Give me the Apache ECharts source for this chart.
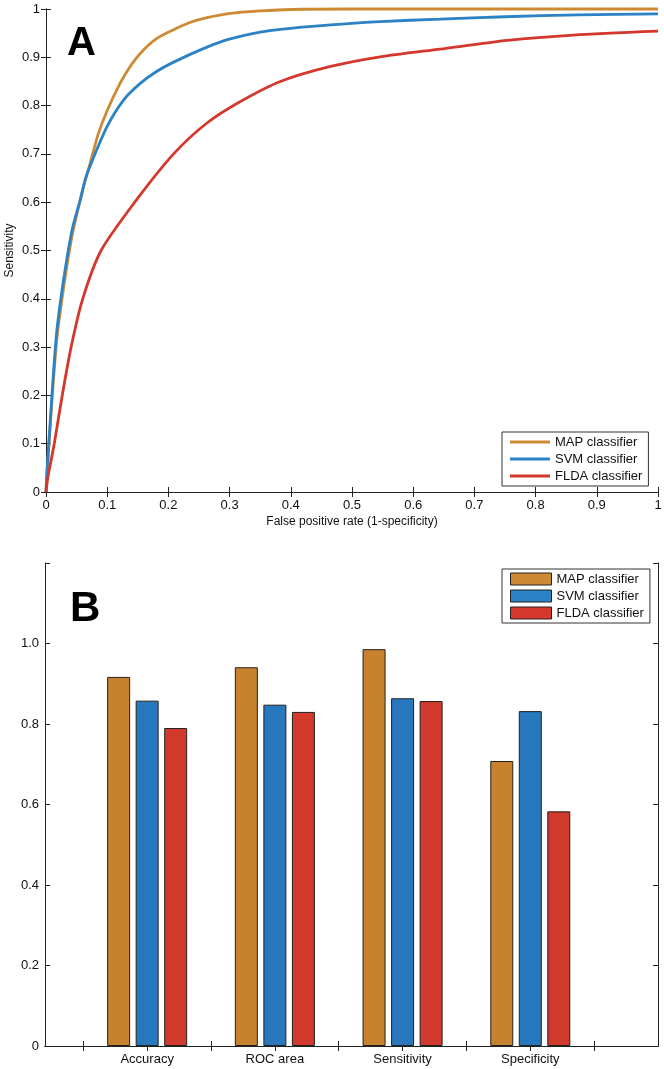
<!DOCTYPE html>
<html>
<head>
<meta charset="utf-8">
<script src="https://cdn.jsdelivr.net/npm/echarts@6/dist/echarts.min.js"></script>
<style>
html, body { margin: 0; padding: 0; background: #fff; }
#chart { width: 664px; height: 1069px; }
</style>
</head>
<body>
<div id="chart"></div>
<script>
// Panel A - ROC curves, points are [false positive rate, sensitivity]
var mapRoc = [[0, 0], [0.002, 0.04], [0.006, 0.12], [0.0115, 0.22], [0.018, 0.32], [0.029, 0.425],
  [0.0425, 0.53], [0.056, 0.605], [0.064, 0.645], [0.072, 0.68], [0.085, 0.74], [0.1, 0.79],
  [0.121, 0.846], [0.137, 0.88], [0.154, 0.908], [0.18, 0.938], [0.2085, 0.957], [0.235, 0.972],
  [0.263, 0.982], [0.301, 0.991], [0.35, 0.996], [0.4, 0.999], [0.5, 1.0], [0.7, 1.0], [1, 1.0]];
var svmRoc = [[0, 0], [0.0016, 0.046], [0.006, 0.128], [0.0114, 0.232], [0.0178, 0.335], [0.0288, 0.44],
  [0.0425, 0.542], [0.056, 0.605], [0.064, 0.646], [0.072, 0.675], [0.0995, 0.756], [0.127, 0.812],
  [0.154, 0.846], [0.18, 0.87], [0.2085, 0.89], [0.263, 0.921], [0.301, 0.938], [0.35, 0.952],
  [0.383, 0.958], [0.465, 0.967], [0.546, 0.974], [0.644, 0.979], [0.75, 0.984], [0.87, 0.988], [1, 0.99]];
var fldaRoc = [[0, 0], [0.003, 0.03], [0.0135, 0.1], [0.0265, 0.2], [0.041, 0.3], [0.06, 0.4],
  [0.09, 0.5], [0.145, 0.6], [0.2085, 0.7], [0.263, 0.764], [0.317, 0.808], [0.383, 0.85],
  [0.465, 0.881], [0.546, 0.901], [0.644, 0.917], [0.754, 0.935], [0.862, 0.946], [1, 0.954]];

// Panel B - performance measures
var measures = ['Accuracy', 'ROC area', 'Sensitivity', 'Specificity'];
var mapScores = [0.917, 0.941, 0.986, 0.708];
var svmScores = [0.858, 0.848, 0.864, 0.832];
var fldaScores = [0.790, 0.830, 0.857, 0.583];

var classifiers = ['MAP classifier', 'SVM classifier', 'FLDA classifier'];
var lineColors = ['#CD8A32', '#2B82C4', '#D4372C'];
var barColors = ['#C8812C', '#2778BD', '#D03A2D'];

var font = '"Liberation Sans", Arial, sans-serif';
var axisColor = '#222';

function frameAxis(extra) {
  var base = {
    axisLine: { show: true, lineStyle: { color: axisColor, width: 1 } },
    axisTick: { show: true, inside: true, length: 5, lineStyle: { color: axisColor } },
    axisLabel: { show: false },
    splitLine: { show: false }
  };
  return Object.assign(base, extra);
}

var labelStyle = { show: true, color: '#111', fontSize: 13, fontFamily: font };

function bars(scores) {
  return scores.map(function (v, i) { return [i + 1, v]; });
}

var chart = echarts.init(document.getElementById('chart'));
chart.setOption({
  animation: false,
  backgroundColor: '#fff',
  grid: [
    { left: 46, top: 9, width: 612, height: 483, outerBoundsMode: 'none', containLabel: false },
    { left: 45, top: 563, width: 613, height: 483, outerBoundsMode: 'none', containLabel: false }
  ],
  xAxis: [
    frameAxis({
      type: 'value', gridIndex: 0, position: 'bottom', min: 0, max: 1, interval: 0.1,
      axisLabel: Object.assign({ margin: 7 }, labelStyle),
      name: 'False positive rate (1-specificity)', nameLocation: 'middle', nameGap: 24,
      nameTextStyle: { color: '#111', fontSize: 12, fontFamily: font }
    }),
    frameAxis({ type: 'value', gridIndex: 0, position: 'top', min: 0, max: 1, interval: 0.1 }),
    frameAxis({
      type: 'value', gridIndex: 1, position: 'bottom', min: 0.2, max: 5,
      axisTick: { show: true, inside: true, length: 5, lineStyle: { color: axisColor },
        customValues: [0.5, 1, 1.5, 2, 2.5, 3, 3.5, 4, 4.5] },
      axisLabel: Object.assign({ margin: 7, customValues: [1, 2, 3, 4],
        formatter: function (v) { return measures[Math.round(v) - 1] || ''; } }, labelStyle)
    }),
    frameAxis({
      type: 'value', gridIndex: 1, position: 'top', min: 0.2, max: 5,
      axisTick: { show: true, inside: true, length: 5, lineStyle: { color: axisColor },
        customValues: [0.5, 1, 1.5, 2, 2.5, 3, 3.5, 4, 4.5] }
    })
  ],
  yAxis: [
    frameAxis({
      type: 'value', gridIndex: 0, position: 'left', min: 0, max: 1, interval: 0.1,
      axisLabel: Object.assign({ margin: 6 }, labelStyle),
      name: 'Sensitivity', nameLocation: 'middle', nameGap: 30, nameMoveOverlap: false,
      nameTextStyle: { color: '#111', fontSize: 12, fontFamily: font }
    }),
    frameAxis({ type: 'value', gridIndex: 0, position: 'right', min: 0, max: 1, interval: 0.1 }),
    frameAxis({
      type: 'value', gridIndex: 1, position: 'left', min: 0, max: 1.2, interval: 0.2,
      axisLabel: Object.assign({ margin: 6, formatter: function (v) {
        if (v === 0) return '0';
        if (v > 1.1) return '';
        return v.toFixed(1);
      } }, labelStyle)
    }),
    frameAxis({ type: 'value', gridIndex: 1, position: 'right', min: 0, max: 1.2, interval: 0.2 })
  ],
  legend: [
    {
      data: classifiers, orient: 'vertical', left: 502, top: 432,
      icon: 'rect', itemWidth: 40, itemHeight: 3, itemGap: 3,
      itemStyle: { borderWidth: 0 },
      padding: [3, 6, 3, 8], borderColor: '#333', borderWidth: 1, backgroundColor: '#fff',
      textStyle: { color: '#111', fontSize: 13, fontFamily: font, lineHeight: 14 }
    },
    {
      data: classifiers, orient: 'vertical', left: 502, top: 569,
      icon: 'rect', itemWidth: 41, itemHeight: 12, itemGap: 3,
      itemStyle: { borderColor: '#222', borderWidth: 1 },
      padding: [3, 6, 3, 8], borderColor: '#333', borderWidth: 1, backgroundColor: '#fff',
      textStyle: { color: '#111', fontSize: 13, fontFamily: font, lineHeight: 14 }
    }
  ],
  graphic: [
    { type: 'text', left: 67, top: 24, style: { text: 'A', font: 'bold 40px ' + font, fill: '#000' } },
    { type: 'text', left: 70, top: 588, style: { text: 'B', font: 'bold 42px ' + font, fill: '#000' } }
  ],
  series: [
    { name: classifiers[0], type: 'line', xAxisIndex: 0, yAxisIndex: 0, data: mapRoc },
    { name: classifiers[1], type: 'line', xAxisIndex: 0, yAxisIndex: 0, data: svmRoc },
    { name: classifiers[2], type: 'line', xAxisIndex: 0, yAxisIndex: 0, data: fldaRoc }
  ].map(function (s, i) {
    return Object.assign(s, {
      symbol: 'none', smooth: 0.25, clip: false,
      color: lineColors[i], lineStyle: { color: lineColors[i], width: 2.8 }
    });
  }).concat([mapScores, svmScores, fldaScores].map(function (scores, i) {
    return {
      name: classifiers[i], type: 'bar', xAxisIndex: 2, yAxisIndex: 2,
      data: bars(scores), barWidth: 23, barGap: '24%',
      itemStyle: { color: barColors[i], borderColor: '#222', borderWidth: 1 }
    };
  }))
});
</script>
</body>
</html>
